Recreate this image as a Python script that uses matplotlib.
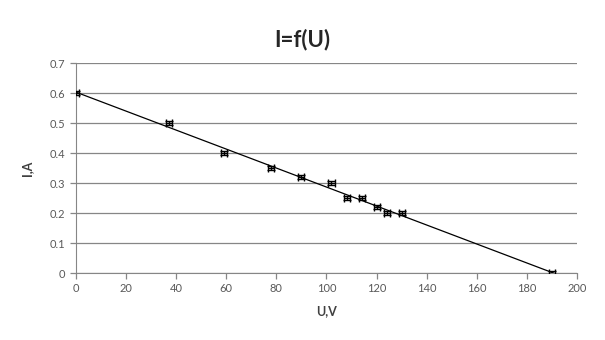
import numpy as np
import matplotlib
matplotlib.use("Agg")
import matplotlib.pyplot as plt

plt.rcParams["font.family"] = ["Lato", "DejaVu Sans"]

# measured values
u_volts = [0, 37, 59, 78, 90, 102, 108, 114, 120, 124, 130, 190]
i_amps = [0.6, 0.5, 0.4, 0.35, 0.32, 0.3, 0.25, 0.25, 0.22, 0.2, 0.2, 0.0]
x_ticks = [0, 20, 40, 60, 80, 100, 120, 140, 160, 180, 200]
y_ticks = [0, 0.1, 0.2, 0.3, 0.4, 0.5, 0.6, 0.7]

fig = plt.figure(figsize=(6.05, 3.4), dpi=100)
ax = fig.add_axes([0.1256, 0.197, 0.8281, 0.6177])

grey = "#868686"
ax.set_xlim(0, 200)
ax.set_ylim(0, 0.7)
ax.set_xticks(x_ticks)
ax.set_yticks(y_ticks)
ax.set_yticklabels(["0" if v == 0 else f"{v:.1f}" for v in y_ticks])
ax.grid(axis="y", color=grey, linewidth=0.9)
ax.set_axisbelow(True)
for side in ["top", "right"]:
    ax.spines[side].set_visible(False)
for side in ["left", "bottom"]:
    ax.spines[side].set_color(grey)
ax.tick_params(colors="#595959", labelsize=8, length=4, direction="out", width=0.9)
ax.tick_params(axis="both", color=grey)

# linear trend line
k, b = np.polyfit(u_volts, i_amps, 1)
xs = np.array([0, -b / k])
ax.plot(xs, k * xs + b, color="black", linewidth=0.9, zorder=3)

ax.errorbar(u_volts, i_amps, xerr=1.2, yerr=0.007, fmt="none", ecolor="black",
            elinewidth=1.0, capsize=2.8, capthick=1.0, zorder=4)

fig.suptitle("I=f(U)", fontsize=16, fontweight="bold", color="#262626", y=0.915)
ax.set_xlabel("U,V", fontsize=9, fontweight="bold", color="#404040", labelpad=8)
ax.set_ylabel("I,A", fontsize=9, fontweight="bold", color="#404040", labelpad=12)

fig.savefig("out.png", dpi=100)
